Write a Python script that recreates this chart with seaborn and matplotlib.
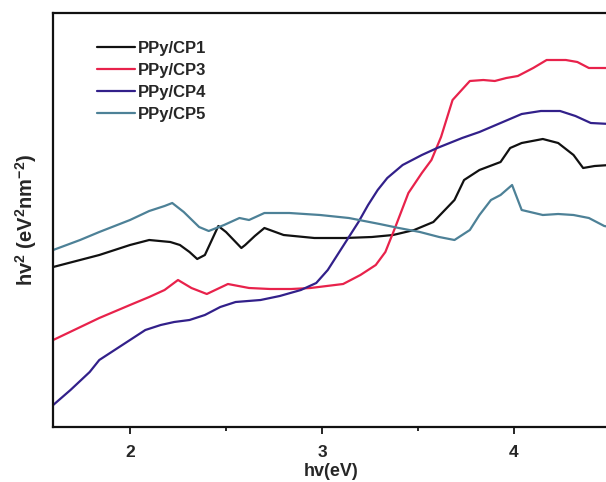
import numpy as np
import pandas as pd
import matplotlib
matplotlib.use("Agg")
import matplotlib.pyplot as plt
import seaborn as sns
from matplotlib.ticker import MultipleLocator

# photon energy (eV) and relative hv^2 values (arbitrary units)
cp1_x = [1.60, 1.84, 2.00, 2.10, 2.21, 2.26, 2.31, 2.35, 2.39, 2.46, 2.50, 2.58, 2.60, 2.65, 2.70,
         2.80, 2.96, 3.12, 3.26, 3.37, 3.48, 3.58, 3.69, 3.74, 3.82, 3.93, 3.98, 4.04, 4.15, 4.23,
         4.31, 4.36, 4.42, 4.50]
cp1_y = [160, 172, 182, 187, 185, 182, 175, 168, 172, 201, 195, 179, 182, 191, 199,
         192, 189, 189, 190, 192, 197, 205, 227, 247, 257, 265, 279, 284, 288, 284,
         272, 259, 261, 262]

cp3_x = [1.60, 1.84, 2.00, 2.10, 2.18, 2.25, 2.32, 2.40, 2.51, 2.62, 2.73, 2.84, 2.94, 3.11,
         3.20, 3.28, 3.33, 3.38, 3.45, 3.52, 3.57, 3.62, 3.68, 3.77, 3.84, 3.90, 3.96, 4.02,
         4.10, 4.17, 4.27, 4.33, 4.39, 4.50]
cp3_y = [87, 109, 122, 130, 137, 147, 139, 133, 143, 139, 138, 138, 139, 143,
         152, 162, 175, 199, 234, 254, 267, 290, 327, 346, 347, 346, 349, 351,
         359, 367, 367, 365, 359, 359]

cp4_x = [1.60, 1.69, 1.79, 1.84, 1.92, 2.00, 2.08, 2.16, 2.23, 2.31, 2.39, 2.47, 2.55, 2.68,
         2.78, 2.89, 2.97, 3.03, 3.08, 3.13, 3.19, 3.24, 3.29, 3.34, 3.42, 3.52, 3.60, 3.73,
         3.82, 3.93, 4.04, 4.14, 4.24, 4.32, 4.40, 4.50]
cp4_y = [22, 37, 55, 67, 77, 87, 97, 102, 105, 107, 112, 120, 125, 127,
         131, 137, 144, 157, 172, 187, 205, 222, 237, 249, 262, 272, 279, 289,
         295, 304, 313, 316, 316, 311, 304, 303]

cp5_x = [1.60, 1.74, 1.84, 2.00, 2.10, 2.18, 2.22, 2.28, 2.36, 2.41, 2.49, 2.57, 2.62, 2.70,
         2.83, 2.99, 3.14, 3.30, 3.40, 3.51, 3.61, 3.69, 3.77, 3.82, 3.88, 3.93, 3.96, 3.99,
         4.04, 4.15, 4.23, 4.31, 4.39, 4.47, 4.50]
cp5_y = [177, 187, 195, 207, 216, 221, 224, 215, 200, 196, 202, 209, 207, 214,
         214, 212, 209, 203, 199, 195, 190, 187, 197, 212, 227, 232, 237, 242,
         217, 212, 213, 212, 209, 201, 200]

labels = ["PPy/CP1", "PPy/CP3", "PPy/CP4", "PPy/CP5"]
colors = ["#111111", "#e8224b", "#32208a", "#4d8197"]

series = [(cp1_x, cp1_y), (cp3_x, cp3_y), (cp4_x, cp4_y), (cp5_x, cp5_y)]

sns.set_style("ticks")
plt.rcParams["font.family"] = ["Liberation Sans", "DejaVu Sans"]
plt.rcParams["font.weight"] = "bold"
plt.rcParams["mathtext.fontset"] = "custom"
plt.rcParams["mathtext.rm"] = "Liberation Sans:bold"
plt.rcParams["mathtext.bf"] = "Liberation Sans:bold"

fig = plt.figure(figsize=(6.06, 4.82), dpi=100)
ax = fig.add_axes([53.2 / 606, 1 - 427 / 482, (610 - 53.2) / 606, 414 / 482])

for (xs, ys), lab, col in zip(series, labels, colors):
    df = pd.DataFrame({"x": xs, "y": ys})
    sns.lineplot(data=df, x="x", y="y", ax=ax, color=col, lw=1.6, label=lab,
                 sort=False, estimator=None)

ax.set_xlim(1.6, 4.5)
ax.set_ylim(0, 414)
ax.xaxis.set_major_locator(MultipleLocator(1))
ax.xaxis.set_minor_locator(MultipleLocator(0.5))
ax.set_yticks([])
ax.tick_params(axis="x", which="major", direction="out", length=5, width=1.4,
               labelsize=12.5, pad=8)
ax.tick_params(axis="x", which="minor", direction="out", length=3, width=1.4)
for lbl in ax.get_xticklabels():
    lbl.set_fontweight("bold")

ax.set_xlabel("hv(eV)", fontsize=13, fontweight="bold", labelpad=2)
ax.set_ylabel("hv$^\\mathbf{2}$ (eV$^\\mathbf{2}$nm$^\\mathbf{-2}$)", fontsize=14.5,
              fontweight="bold", labelpad=10)

for s in ax.spines.values():
    s.set_linewidth(1.6)
    s.set_color("#111111")

leg = ax.legend(loc="upper left", bbox_to_anchor=(0.051, 0.968), frameon=False,
                handlelength=2.3, handletextpad=0.15, labelspacing=0.42,
                prop={"weight": "bold", "size": 12})

fig.savefig("out.png", dpi=100)
